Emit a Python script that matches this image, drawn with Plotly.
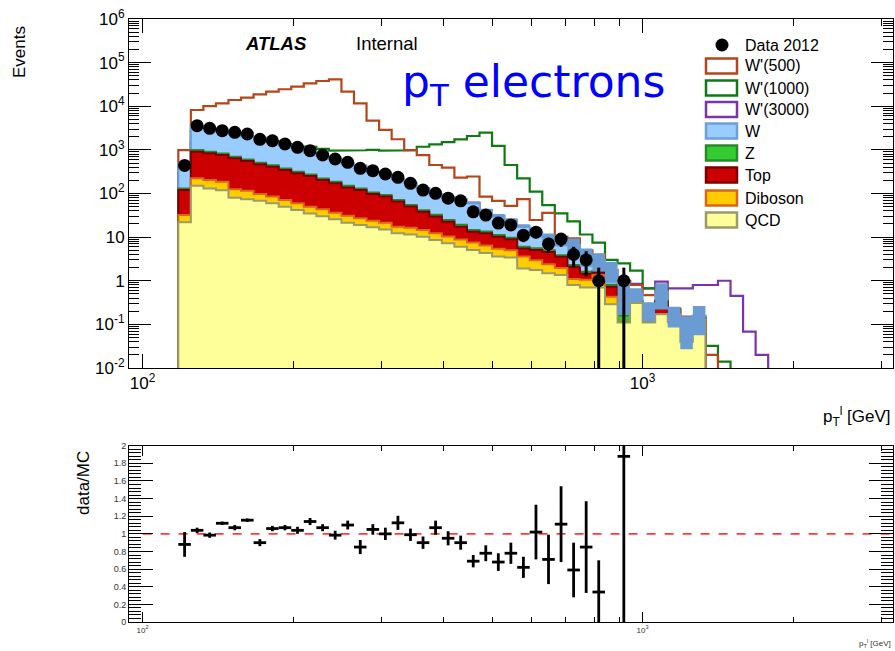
import plotly.graph_objects as go

# ---------------- data ----------------
edges = [117.88, 124.89, 132.31, 140.18, 148.51, 157.34, 166.72, 176.64, 187.14, 198.28,
         210.09, 222.58, 235.82, 249.84, 264.72, 280.45, 297.17, 314.84, 333.58, 353.43,
         374.46, 396.74, 420.34, 445.35, 471.85, 499.92, 529.66, 561.17, 594.56, 629.94,
         667.42, 707.13, 749.20, 793.78, 841.01, 891.05, 944.06, 1000.2, 1059.8, 1122.8,
         1189.6, 1260.4, 1335.4, 1414.9, 1499.1, 1588.3, 1682.8, 1782.9]

qcd = [22, 150, 131, 118, 80, 74, 68, 60, 50, 42, 35, 30, 25.6, 21.4, 19, 16.8, 15, 12.2,
       11.5, 10.2, 8.6, 7.2, 6.0, 5.1, 4.3, 3.6, 3.4, 1.9, 1.76, 1.48, 1.35, 0.8, 0.7, 0.7,
       0.29, 0.11, 0.31, 0.11, 0.17, 0.11, 0.04, 0.13]
diboson = [10, 73, 73, 69, 45, 42, 30, 25, 21, 18, 15, 13.5, 10.4, 9.5, 8, 7, 6.4, 5.2,
           4.8, 4.3, 3.7, 3.2, 2.8, 2.4, 2.1, 1.8, 1.6, 1.7, 1.2, 0.9, 0.6, 0.3, 0.35, 0.65,
           0.14, 0, 0, 0, 0, 0, 0, 0]
top = [88, 685, 628, 576, 516, 440, 370, 326, 275, 230, 202, 160, 135, 107, 93, 73, 64, 48,
       34, 23.5, 17.4, 12.2, 8.6, 5.8, 5.8, 4.8, 3.9, 1.9, 2.1, 2.2, 1.6, 1.0, 0.4, 0.2,
       0.3, 0, 0, 0, 0.16, 0, 0, 0]
zjets = [10, 80, 75, 65, 55, 48, 40, 35, 30, 25, 22, 18, 15, 12, 10, 8.5, 7.5, 6, 4.5, 3.5,
         2.8, 2.2, 1.7, 1.3, 1.2, 1.0, 0.8, 0.5, 0.5, 0.4, 0.3, 0.2, 0.15, 0.1, 0.08, 0.05,
         0.03, 0.03, 0.02, 0.01, 0.01, 0.01]
wjets = [370, 2460, 2190, 1770, 1650, 1450, 1390, 1100, 925, 785, 596, 500, 434, 340, 310,
         215, 187, 144, 120, 91.5, 63.5, 57, 55, 45.4, 28.6, 19.8, 14.8, 12, 7.4, 5.0, 4.35,
         4.3, 2.2, 1.3, 1.0, 0.39, 0.16, 0.08, 0.2, 0.05, 0.04, 0.02]
mc_rel_unc = [0.03] * 20 + [0.06, 0.06, 0.06, 0.06, 0.06, 0.1, 0.1, 0.1, 0.2, 0.22,
                            0.25, 0.4, 0.45, 0.45, 0.5, 0.7, 0.35, 0.47, 0.6, 0.5, 0.7, 0.65]

data = [440, 3580, 3120, 2750, 2520, 2310, 1745, 1620, 1365, 1143, 957, 763, 618, 519, 378,
        333, 280, 235, 171, 120, 101, 78, 68, 38, 32, 21, 19, 11, 13, 7, 9, 4, 3, 1, 0, 1]

ratio = [0.88, 1.04, 0.985, 1.12, 1.07, 1.155, 0.90, 1.06, 1.07, 1.04, 1.14, 1.07, 0.985,
         1.10, 0.85, 1.05, 1.00, 1.125, 0.99, 0.90, 1.07, 0.95, 0.90, 0.69, 0.78, 0.68,
         0.78, 0.62, 1.02, 0.71, 1.11, 0.59, 0.85, 0.34, None, 1.88]
ratio_err = [0.14, 0.03, 0.03, 0.02, 0.03, 0.02, 0.04, 0.03, 0.03, 0.04, 0.04, 0.04, 0.05,
             0.05, 0.08, 0.06, 0.07, 0.08, 0.07, 0.07, 0.08, 0.08, 0.08, 0.07, 0.09, 0.10,
             0.12, 0.12, 0.31, 0.28, 0.43, 0.31, 0.52, 0.36, None, 1.9]

wp500 = [990, 8200, 10100, 11700, 13900, 15700, 18800, 21600, 24500, 28100, 33600, 37900,
         41500, 21600, 11700, 4700, 2860, 1750, 990, 760, 450, 390, 230, 245, 85, 68, 52,
         74, 24.7, 36, 10.2, 9.4, 5.0, 3.9, 1.76, 1.0, 0.8, 0.47, 0.6, 0.21, 0.15, 0.15, 0.02]
wp1000 = [300, 2900, 2650, 2200, 2000, 1800, 1800, 1580, 1350, 1200, 1180, 1050, 960, 960,
          980, 1000, 960, 970, 980, 1180, 1340, 1510, 1740, 2080, 2480, 1230, 450, 223, 110,
          54, 35, 23, 11.5, 7.5, 3.0, 2.5, 1.7, 0.67, 0.67, 0.23, 0.14, 0.15, 0.032, 0.014]
wp3000 = [100, 1500, 1400, 1300, 1200, 1100, 1000, 900, 800, 700, 600, 500, 420, 350, 290,
          240, 200, 160, 130, 100, 80, 70, 62, 62, 30, 20, 14, 10, 7, 5, 3.6, 2.6, 1.9, 1.5,
          1.2, 1.0, 0.85, 0.67, 0.95, 0.67, 0.67, 0.8, 0.8, 1.0, 0.45, 0.068, 0.02]

y_decades = [1e-2, 1e-1, 1, 10, 1e2, 1e3, 1e4, 1e5, 1e6]
y_decade_labels = ["10<sup>-2</sup>", "10<sup>-1</sup>", "1", "10", "10<sup>2</sup>",
                   "10<sup>3</sup>", "10<sup>4</sup>", "10<sup>5</sup>", "10<sup>6</sup>"]
ratio_ticks = [0, 0.2, 0.4, 0.6, 0.8, 1, 1.2, 1.4, 1.6, 1.8, 2]
ratio_tick_labels = ["0", "0.2", "0.4", "0.6", "0.8", "1", "1.2", "1.4", "1.6", "1.8", "2"]

# ---------------- styling / geometry ----------------
FONT = "Liberation Sans, Arial, Helvetica, sans-serif"
W_PX, H_PX = 895, 651
ML, MR, MT, MB = 129, 2, 19, 29
PW = W_PX - ML - MR
PH = H_PX - MT - MB


def pxx(x):
    return (x - ML) / PW


def pxy(y):
    return (H_PX - MB - y) / PH


FLOOR = 1e-3
X_RANGE = [1.9728, 3.5008]


def hist_path(vals):
    n = len(vals)
    xs, ys = [edges[0]], [FLOOR]
    for i, v in enumerate(vals):
        xs += [edges[i], edges[i + 1]]
        ys += [max(v, FLOOR), max(v, FLOOR)]
    xs.append(edges[n])
    ys.append(FLOOR)
    return xs, ys


def cumsum(*arrs):
    return [sum(a[i] for a in arrs) for i in range(len(arrs[0]))]


c_qcd = list(qcd)
c_dib = cumsum(qcd, diboson)
c_top = cumsum(qcd, diboson, top)
c_z = cumsum(qcd, diboson, top, zjets)
c_w = cumsum(qcd, diboson, top, zjets, wjets)

fig = go.Figure()

# signal lines (behind the stack)
for vals, col in [(wp3000, "#7a35a8"), (wp1000, "#0f7a12"), (wp500, "#b3461a")]:
    xs, ys = hist_path(vals)
    fig.add_trace(go.Scatter(x=xs, y=ys, mode="lines", line=dict(color=col, width=2.2),
                             xaxis="x", yaxis="y", hoverinfo="skip"))

# stacked backgrounds
for vals, fillc, linec in [(c_w, "#99ccff", "#6d9fd8"),
                           (c_z, "#33cc33", "#2a8a2a"),
                           (c_top, "#cc0000", "#7a0000"),
                           (c_dib, "#ffcc00", "#d9661a"),
                           (c_qcd, "#ffff99", "#9a9a6a")]:
    xs, ys = hist_path(vals)
    fig.add_trace(go.Scatter(x=xs, y=ys, mode="lines", fill="toself", fillcolor=fillc,
                             line=dict(color=linec, width=2), xaxis="x", yaxis="y",
                             hoverinfo="skip"))

# MC uncertainty band
bx, by = [], []
for i, (t, r) in enumerate(zip(c_w, mc_rel_unc)):
    lo, hi = t * (1 - r), t * (1 + r)
    bx += [edges[i], edges[i + 1], edges[i + 1], edges[i], edges[i], None]
    by += [lo, lo, hi, hi, lo, None]
fig.add_trace(go.Scatter(x=bx, y=by, mode="lines", fill="toself", fillcolor="#6a9bd3",
                         line=dict(width=0, color="rgba(0,0,0,0)"), xaxis="x", yaxis="y",
                         hoverinfo="skip"))

# data
centers = [(edges[i] * edges[i + 1]) ** 0.5 for i in range(len(edges) - 1)]
ex, ey, dx, dy = [], [], [], []
for i, n in enumerate(data):
    if n <= 0:
        continue
    s = n ** 0.5
    lo = n - s if n - s > 0 else FLOOR
    ex += [centers[i], centers[i], None]
    ey += [lo, n + s, None]
    dx.append(centers[i])
    dy.append(n)
fig.add_trace(go.Scatter(x=ex, y=ey, mode="lines", line=dict(color="black", width=3),
                         xaxis="x", yaxis="y", hoverinfo="skip"))
fig.add_trace(go.Scatter(x=dx, y=dy, mode="markers",
                         marker=dict(color="black", size=13, symbol="circle"),
                         xaxis="x", yaxis="y", hoverinfo="skip"))

# ratio panel
x_hi = 10 ** X_RANGE[1]
fig.add_trace(go.Scatter(x=[100, x_hi], y=[1, 1], mode="lines",
                         line=dict(color="#ff3b3b", width=1.6, dash="dash"),
                         xaxis="x2", yaxis="y2", hoverinfo="skip"))
rx, ry = [], []
for i, (r, e) in enumerate(zip(ratio, ratio_err)):
    if r is None:
        continue
    rx += [edges[i], edges[i + 1], None, centers[i], centers[i], None]
    ry += [r, r, None, r - e, r + e, None]
fig.add_trace(go.Scatter(x=rx, y=ry, mode="lines", line=dict(color="black", width=2.8),
                         xaxis="x2", yaxis="y2", hoverinfo="skip"))

# ---------------- axes ----------------
x_minor = [200, 300, 400, 500, 600, 700, 800, 900, 2000, 3000]
y_minor = [m * d for d in [1e-2, 1e-1, 1, 10, 1e2, 1e3, 1e4, 1e5] for m in range(2, 10)]
ratio_minor = [round(0.04 * k, 2) for k in range(51) if k % 5 != 0]

common_x = dict(type="log", range=X_RANGE, domain=[0, 1], tickvals=[100, 1000],
                ticktext=["10<sup>2</sup>", "10<sup>3</sup>"], ticks="inside",
                tickcolor="black", tickwidth=1, showline=True, linecolor="black",
                linewidth=1, mirror="allticks", showgrid=False, zeroline=False)

fig.update_layout(
    width=W_PX, height=H_PX,
    margin=dict(l=ML, r=MR, t=MT, b=MB, autoexpand=False),
    paper_bgcolor="white", plot_bgcolor="white", showlegend=False,
    font=dict(family=FONT, color="black"),
    xaxis=dict(**common_x, anchor="y", ticklen=14, tickfont=dict(size=17),
               minor=dict(tickvals=x_minor, ticks="inside", ticklen=7,
                          tickcolor="black", showgrid=False)),
    yaxis=dict(type="log", range=[-2, 6], domain=[pxy(368), 1], anchor="x",
               tickvals=y_decades, ticktext=y_decade_labels, ticks="inside", ticklen=22,
               tickcolor="black", tickfont=dict(size=17), showline=True, linecolor="black",
               linewidth=1, mirror="allticks", showgrid=False, zeroline=False,
               minor=dict(tickvals=y_minor, ticks="inside", ticklen=10,
                          tickcolor="black", showgrid=False)),
    xaxis2=dict(**common_x, anchor="y2", ticklen=10, tickfont=dict(size=8, color="#333"),
                minor=dict(tickvals=x_minor, ticks="inside", ticklen=5,
                           tickcolor="black", showgrid=False)),
    yaxis2=dict(range=[0, 2], domain=[0, pxy(445.7)], anchor="x2", tickvals=ratio_ticks,
                ticktext=ratio_tick_labels, ticks="inside", ticklen=24, tickcolor="black",
                tickfont=dict(size=9, color="#333"), showline=True, linecolor="black",
                linewidth=1, mirror="allticks", showgrid=False, zeroline=False,
                minor=dict(tickvals=ratio_minor, ticks="inside", ticklen=12,
                           tickcolor="black", showgrid=False)),
)

# ---------------- texts ----------------
ann = []


def text(x, y, s, size, xanchor="left", yanchor="middle", color="black", angle=0,
         family=FONT):
    ann.append(dict(x=pxx(x), y=pxy(y), xref="paper", yref="paper", text=s,
                    showarrow=False, xanchor=xanchor, yanchor=yanchor, textangle=angle,
                    font=dict(size=size, color=color, family=family)))


text(20, 52, "Events", 17, xanchor="center", yanchor="middle", angle=-90)
text(893, 416, "p<sub>T</sub><sup>l</sup> [GeV]", 17, xanchor="right")
text(243, 43, "<b><i>ATLAS</i></b>", 18.5)
text(354, 43, "Internal", 18.5)
text(400, 85, "p<sub>T</sub> electrons", 44, color="#0000ff",
     family="DejaVu Sans, Noto Sans, sans-serif")
text(83, 483, "data/MC", 17, xanchor="center", angle=-90)
text(893, 643, "p<sub>T</sub><sup>l</sup> [GeV]", 8, xanchor="right", color="#333")

# legend (drawn by hand to mimic ROOT style)
shapes = []
legend_rows = [
    ("W'(500)", 66, "white", "#b3461a", 2.5),
    ("W'(1000)", 88, "white", "#0f7a12", 2.5),
    ("W'(3000)", 109.5, "white", "#7a35a8", 2.5),
    ("W", 131, "#99ccff", "#6d9fd8", 2.5),
    ("Z", 153, "#33cc33", "#2a8a2a", 2.5),
    ("Top", 175, "#cc0000", "#7a0000", 2.5),
    ("Diboson", 198, "#ffcc00", "#d9661a", 2.5),
    ("QCD", 220, "#ffff99", "#9a9a6a", 2.5),
]
shapes.append(dict(type="circle", xref="paper", yref="paper", x0=pxx(715.5), x1=pxx(728.5),
                   y0=pxy(51.5), y1=pxy(38.5), fillcolor="black", line=dict(width=0)))
text(743, 45, "Data 2012", 16)
for label, yc, fillc, linec, lw in legend_rows:
    shapes.append(dict(type="rect", xref="paper", yref="paper", x0=pxx(706), x1=pxx(737),
                       y0=pxy(yc + 7.5), y1=pxy(yc - 7.5), fillcolor=fillc,
                       line=dict(color=linec, width=lw)))
    text(743, yc, label, 16)

fig.update_layout(annotations=ann, shapes=shapes)
fig.write_html("out.html")
